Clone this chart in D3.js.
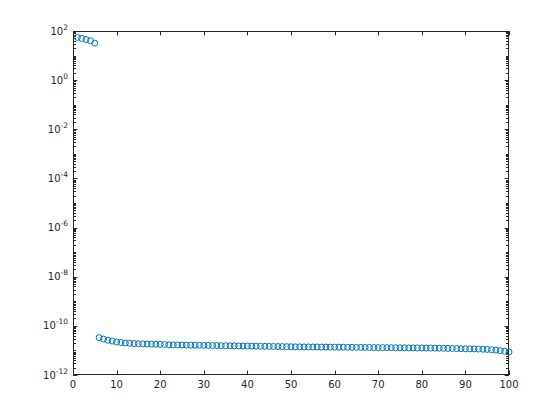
<!DOCTYPE html>
<html><head><meta charset="utf-8">
<script src="https://cdn.jsdelivr.net/npm/d3@7"></script>
<style>body{margin:0;background:#fff}svg{display:block}</style>
</head><body>
<script>
const xTicks = [0,10,20,30,40,50,60,70,80,90,100];
const yTickExps = [-12,-10,-8,-6,-4,-2,0,2];
const xValues = d3.range(1,101);
const yValues = [
  55,50,45,40,32,
  3.3e-11,2.9e-11,2.6e-11,2.4e-11,2.2e-11,2.1e-11,2.0e-11,1.95e-11,1.9e-11,1.88e-11,
  1.85e-11,1.82e-11,1.8e-11,1.78e-11,1.76e-11,1.74e-11,1.7e-11,1.68e-11,1.67e-11,1.66e-11,
  1.65e-11,1.64e-11,1.63e-11,1.62e-11,1.61e-11,1.6e-11,1.59e-11,1.58e-11,1.56e-11,1.55e-11,
  1.54e-11,1.53e-11,1.52e-11,1.51e-11,1.5e-11,1.5e-11,1.49e-11,1.48e-11,1.47e-11,1.46e-11,
  1.45e-11,1.44e-11,1.43e-11,1.42e-11,1.41e-11,1.4e-11,1.4e-11,1.39e-11,1.39e-11,1.38e-11,
  1.38e-11,1.37e-11,1.37e-11,1.36e-11,1.36e-11,1.35e-11,1.35e-11,1.34e-11,1.34e-11,1.33e-11,
  1.33e-11,1.32e-11,1.32e-11,1.31e-11,1.31e-11,1.3e-11,1.3e-11,1.29e-11,1.29e-11,1.28e-11,
  1.28e-11,1.27e-11,1.27e-11,1.26e-11,1.26e-11,1.25e-11,1.25e-11,1.24e-11,1.23e-11,1.22e-11,
  1.21e-11,1.2e-11,1.19e-11,1.18e-11,1.17e-11,1.16e-11,1.15e-11,1.14e-11,1.12e-11,1.1e-11,
  1.07e-11,1.03e-11,9.8e-12,9.3e-12,8.6e-12
];

const W=560,H=420, L=73, R=509, T=31, B=375;
const svg=d3.select("body").append("svg").attr("width",W).attr("height",H);
const x=d3.scaleLinear().domain([0,100]).range([L,R]);
const y=d3.scaleLog().domain([1e-12,1e2]).range([B,T]);
const axisColor="#262626";
const font="DejaVu Sans, sans-serif";

const minor=[];
for(let e=-12;e<2;e++){for(let k=1;k<=9;k++){const v=k*Math.pow(10,e); if(k===1 && yTickExps.includes(e)) continue; minor.push(v);}}
const g=svg.append("g");
const minorLen=3, majorLen=4.4;
minor.forEach(v=>{
  const yy=Math.round(y(v))+0.5;
  g.append("line").attr("x1",L).attr("x2",L+minorLen).attr("y1",yy).attr("y2",yy).attr("stroke",axisColor);
  g.append("line").attr("x1",R).attr("x2",R-minorLen).attr("y1",yy).attr("y2",yy).attr("stroke",axisColor);
});
yTickExps.forEach(e=>{
  const yy=Math.round(y(Math.pow(10,e)))+0.5;
  g.append("line").attr("x1",L).attr("x2",L+majorLen).attr("y1",yy).attr("y2",yy).attr("stroke",axisColor);
  g.append("line").attr("x1",R).attr("x2",R-majorLen).attr("y1",yy).attr("y2",yy).attr("stroke",axisColor);
  const t=g.append("text").attr("x",L-5).attr("y",y(Math.pow(10,e))+3.5).attr("text-anchor","end")
    .attr("font-family",font).attr("font-size",10).attr("fill",axisColor);
  t.append("tspan").text("10");
  t.append("tspan").attr("dy",-5).attr("font-size",7.5).text(e);
});
xTicks.forEach(v=>{
  const xx=Math.round(x(v))+0.5;
  g.append("line").attr("x1",xx).attr("x2",xx).attr("y1",B).attr("y2",B-majorLen).attr("stroke",axisColor);
  g.append("line").attr("x1",xx).attr("x2",xx).attr("y1",T).attr("y2",T+majorLen).attr("stroke",axisColor);
  g.append("text").attr("x",x(v)).attr("y",B+13).attr("text-anchor","middle")
    .attr("font-family",font).attr("font-size",10).attr("fill",axisColor).text(v);
});
g.append("rect").attr("x",L+0.5).attr("y",T+0.5).attr("width",R-L-1).attr("height",B-T-1)
  .attr("fill","none").attr("stroke",axisColor).attr("stroke-width",1);

svg.append("g").selectAll("circle").data(xValues.map((d,i)=>[d,yValues[i]])).join("circle")
  .attr("cx",d=>x(d[0])).attr("cy",d=>y(d[1])).attr("r",3)
  .attr("fill","none").attr("stroke","#0072BD").attr("stroke-width",1);
</script>
</body></html>
